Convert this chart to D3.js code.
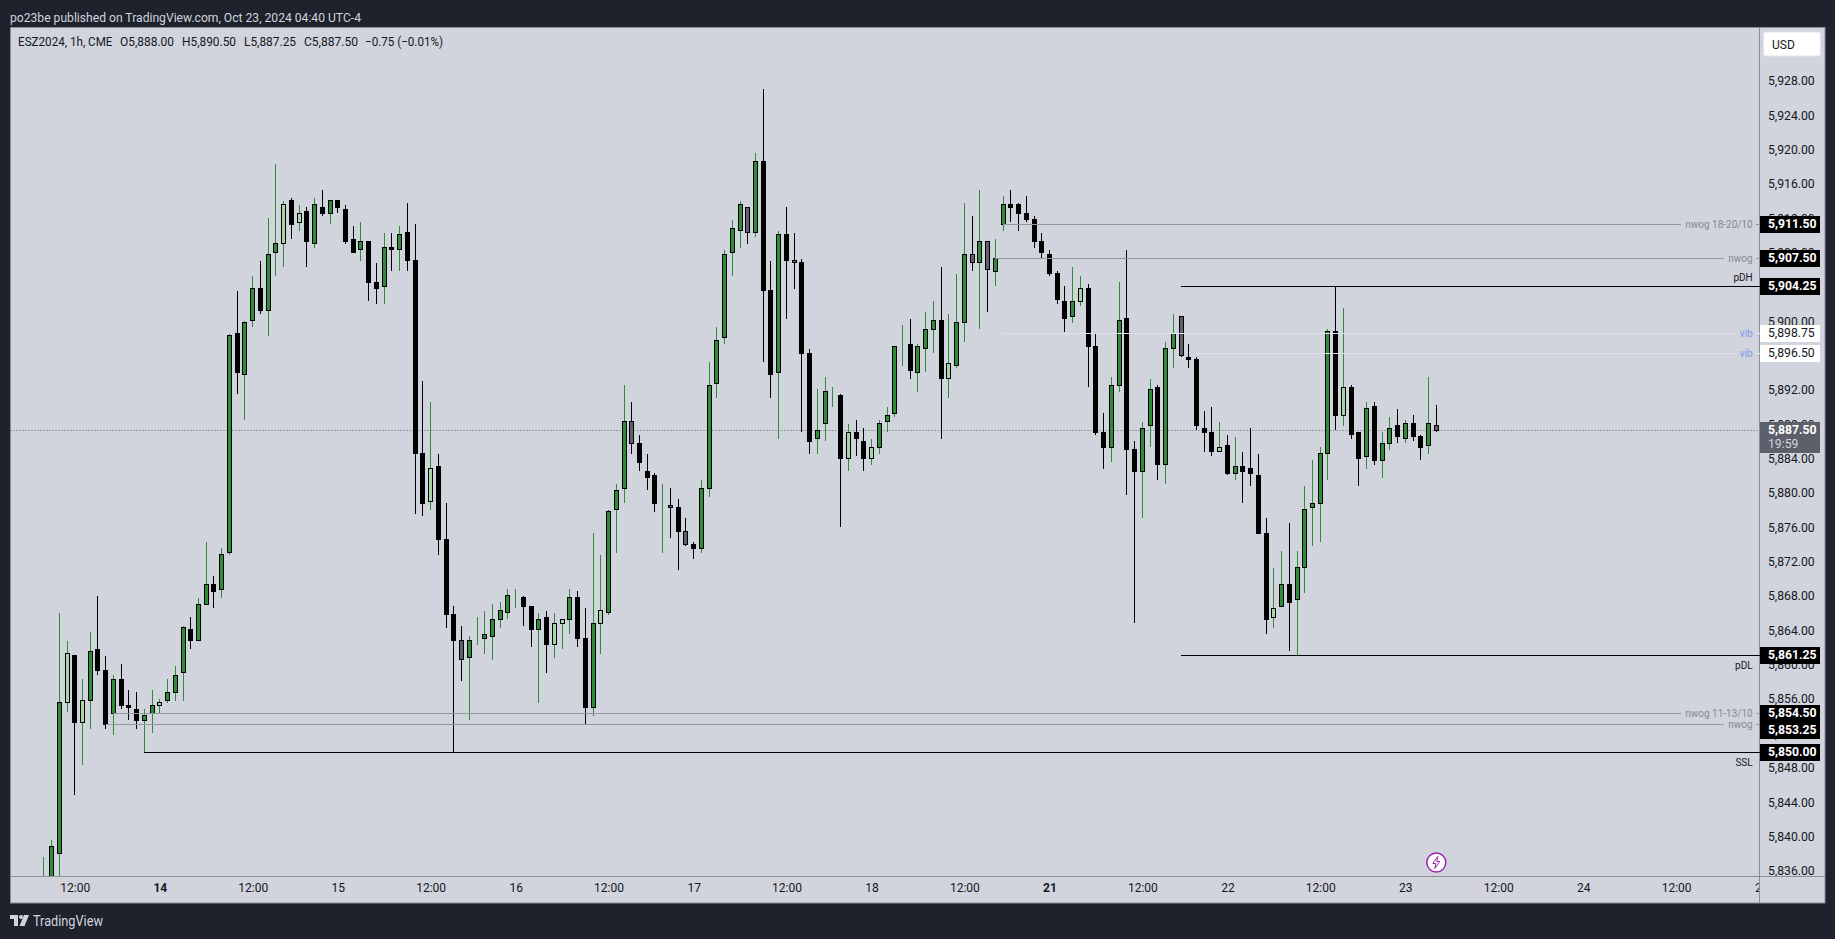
<!DOCTYPE html>
<html>
<head>
<meta charset="utf-8">
<title>ESZ2024 1h</title>
<script src="https://cdn.jsdelivr.net/npm/d3@7/dist/d3.min.js"></script>
<style>
html,body{margin:0;padding:0;background:#1e222d;overflow:hidden}
svg{display:block}
text{font-family:"Roboto","Open Sans",sans-serif}
</style>
</head>
<body>
<svg id="chart" width="1835" height="939"></svg>
<script>
const opens = [
5829,5834,5838.25,5855.75,5861.25,5853.5,5856,5862,5859.5,5854.5,
5858.5,5855.5,5855,5853.75,5854.5,5855.5,5856,5857,5859.25,5864.25,
5863,5867.25,5869.5,5869,5873.25,5898.75,5894,5900.25,5904,5901.5,
5908.25,5909.25,5914.25,5911.75,5913,5909.25,5913.5,5912.75,5914.25,5913.25,
5909.75,5908.5,5909.5,5904.75,5904.25,5908.75,5908.5,5910.5,5907.25,5884.75,
5879.25,5883.25,5874.75,5866,5863,5861,5863,5863.25,5863.5,5865.5,
5866.25,5868,5868,5867,5864.25,5865.75,5862.5,5865,5865.5,5868,
5863.25,5855.25,5865,5866.25,5878.25,5880.75,5888.5,5886,5882.75,5882.25,
5878.75,5878.75,5878.5,5875.75,5874.25,5873.75,5880.75,5893,5898.25,5908.25,
5910.75,5913.5,5910.5,5918.75,5903.75,5894.25,5910.25,5907.25,5907,5896.5,
5886.5,5888.25,5891.75,5891.5,5884.25,5887.25,5886.25,5884.25,5885.5,5888.5,
5889.5,5897.25,5897.5,5894.25,5897,5899.25,5900.25,5893.5,5895,5900,
5908,5907,5909.5,5906,5911.5,5913.75,5913.75,5912.75,5912,5909.5,
5908,5905.75,5902.5,5900.75,5902.5,5904,5897.25,5887.25,5885.5,5892.75,
5900.5,5885.25,5882.75,5888,5892.5,5883.5,5897,5900.75,5896,5895.75,
5887.75,5887.25,5885,5885.75,5882.5,5883.25,5883,5882.25,5875.5,5865.75,
5867,5869.5,5867.75,5871.5,5878.5,5879,5884.75,5899,5889.25,5892.5,
5887.25,5884.5,5890.25,5884,5886,5888,5886.5,5888.25,5886.75,5885.75,
5888];
const highs = [
5837.75,5839.75,5866.25,5863,5861.25,5858.5,5864,5868.25,5861.25,5859,
5860.25,5857.25,5857,5855,5857.25,5856.25,5858.5,5860,5864.75,5865.75,
5868,5874.5,5870.5,5873.75,5898.75,5903.75,5900.25,5905.5,5907.25,5912.25,
5918.5,5914.25,5914.5,5913.75,5913.5,5914.5,5915.5,5914.25,5914.25,5913.75,
5911.25,5911.75,5909.5,5907,5910.5,5910.5,5911.25,5914,5911.5,5893.25,
5890.75,5884.75,5879,5867,5864.75,5863.5,5865.75,5866.5,5867.25,5867.5,
5869,5869,5868.25,5867,5866.25,5866.5,5866.25,5865.5,5869,5868.75,
5866.75,5875.5,5873,5878.25,5881.25,5892.75,5890.75,5887,5884.75,5882.5,
5881.25,5880.75,5879.5,5877.25,5874.5,5881.75,5895.5,5899.5,5908.5,5912,
5914.25,5913.5,5919.75,5927.25,5907.25,5910.75,5913.5,5910.5,5907.5,5897,
5892.25,5893.75,5892.5,5891.75,5888.25,5888.75,5887.75,5886.5,5888.75,5890.25,
5897.25,5899.75,5900.5,5897.5,5901.25,5902.5,5906.5,5901,5905.75,5914,
5912.5,5915.5,5909.5,5909.75,5914.75,5915.5,5914,5914.75,5912.5,5910.5,
5908.5,5906,5904.25,5906.5,5905.5,5904.5,5898.75,5889.5,5893.75,5904.75,
5908.5,5886.25,5888.5,5893.5,5892.75,5897.75,5901,5900.75,5897.5,5896,
5889.75,5890.25,5888.5,5887,5886.75,5885,5887.75,5884.75,5877.25,5871.5,
5873.5,5876.75,5873.5,5881,5884,5885.5,5899.25,5904.25,5901.75,5892.75,
5887.25,5890.75,5890.75,5887.25,5889,5890,5888.75,5889.25,5887,5893.75,
5890.5];
const lows = [
5827,5833,5834,5854.75,5845,5848.5,5852.75,5859,5852.75,5852,
5855,5853.75,5852.75,5850,5852.25,5854.5,5855.75,5856,5856,5862,
5863,5867.25,5866.75,5868,5873,5891.75,5888.75,5899.5,5901,5898.5,
5905.5,5906.5,5909.75,5910.75,5906.5,5908.75,5912.5,5911.5,5912.75,5909.25,
5908.25,5907.25,5902.5,5902.25,5902.25,5906,5906,5906,5877.75,5877.5,
5878.25,5873,5864.5,5850,5858.25,5853.75,5862.5,5861.5,5860.75,5864.5,
5865.5,5866.75,5864.75,5862.25,5855.75,5859.25,5861,5862,5863.75,5862.25,
5853.25,5854.25,5861.5,5866,5873.25,5879,5884.75,5882.75,5880.5,5878,
5873.25,5875,5871.25,5874,5872.5,5873.25,5879.75,5891.25,5897.5,5905.5,
5908.75,5909.25,5910,5895.5,5891.25,5886.5,5900.5,5904,5887.25,5884.75,
5884.75,5886.25,5890.25,5876.25,5882.75,5884.5,5882.75,5883.5,5884.75,5887.25,
5889,5895,5893.5,5892,5894.25,5896.5,5886.5,5891.25,5894.75,5897.75,
5906,5899.25,5901.25,5904.25,5910.75,5911.75,5910.75,5911.75,5908.75,5907.5,
5905.5,5902.25,5899,5900,5902,5892.5,5887,5883,5883.75,5892,
5880,5865,5877.25,5885.5,5881.75,5881.25,5894.75,5896,5894.75,5887.5,
5885,5884.5,5885,5882.25,5881.75,5879,5881,5875.5,5863.75,5864.5,
5867,5861.75,5861.25,5868.5,5874,5874.5,5881.75,5887.5,5888,5886.5,
5881,5883,5883.5,5882,5885.25,5886,5886,5886.25,5884,5884.75,
5887.25];
const closes = [
5834,5839,5855.75,5861.5,5853.5,5856,5861.75,5859.5,5853.25,5858.5,
5855.5,5855.25,5853.75,5854.25,5855.5,5855.75,5857,5859,5864.5,5863,
5867.25,5869.5,5868.75,5873,5898.5,5894.25,5900,5904,5901.5,5908,
5909.25,5913.75,5911.5,5912.75,5909.5,5913.75,5912.75,5914.25,5913.5,5909.5,
5908.25,5909.5,5904.75,5904,5908.75,5908.5,5910.25,5907.25,5884.75,5879,
5883,5874.75,5866,5863,5860.75,5863,5863,5863.75,5865.5,5866.5,
5868.25,5868,5867,5864.25,5865.5,5862.5,5865,5865.5,5868,5863.25,
5855.25,5865,5866.5,5878,5880.5,5888.5,5886,5883.75,5882,5879,
5878.75,5878.5,5875.75,5874.25,5873.75,5880.75,5892.75,5898,5908,5911,
5913.75,5910.5,5918.75,5903.75,5894,5910.25,5907.25,5907,5896.5,5886.25,
5887.5,5892,5891.75,5884.25,5887.25,5886.5,5884.25,5885.5,5888.25,5889.25,
5897.25,5897.25,5894.5,5897.25,5899.25,5900.25,5893.5,5895.25,5900,5908,
5907,5909.5,5906.25,5907.5,5913.75,5913.5,5912.75,5912,5909.5,5908.25,
5905.75,5902.75,5900.5,5902.5,5904,5897.25,5887.25,5885.5,5892.75,5900.25,
5885.25,5882.75,5887.75,5892.25,5883.5,5897,5898.75,5896.25,5895.75,5888,
5887.25,5885,5885.5,5882.5,5883.25,5882.75,5882.5,5875.5,5865.5,5866.75,
5869.5,5867.5,5871.5,5878.25,5879,5884.75,5899,5889.25,5892.5,5887,
5884.25,5890,5884,5886,5887.75,5886.75,5888.25,5886.75,5885.5,5888.25,
5887.5];
// bars highlighted on the original chart (indices into the series)
const paleUpBars = [3,5,15,31,33,50,66,67,72,104,107,117,134,152,159,168];
const greyDownBars = [54,76,81,83,91,97,120,122,147,180];

const priceTicks = [5928,5924,5920,5916,5912,5908,5904,5900,5896,5892,5888,5884,5880,5876,5872,5868,5864,5860,5856,5852,5848,5844,5840,5836];
const timeTickBars = [4,15,27,38,50,61,73,84,96,107,119,130,142,153,165,176,188,199,211,222];
const timeTickLabels = ["12:00","14","12:00","15","12:00","16","12:00","17","12:00","18","12:00","21","12:00","22","12:00","23","12:00","24","12:00","25"];
const boldTimeLabels = ["14","21"];

const levelPrices = [5911.5,5907.5,5904.25,5898.75,5896.5,5861.25,5854.5,5853.25,5850];
const levelStartBars = [124,123,147,124,149,147,9,8,13];
const levelNames = ["nwog 18-20/10","nwog","pDH","vib","vib","pDL","nwog 11-13/10","nwog","SSL"];
const levelKinds = ["gap","gap","liq","vib","vib","liq","gap","gap","liq"];

const legendParts = ["ESZ2024, 1h, CME","O5,888.00","H5,890.50","L5,887.25","C5,887.50","\u22120.75 (\u22120.01%)"];
const headerText = "po23be published on TradingView.com, Oct 23, 2024 04:40 UTC-4";
const lastClose = closes[closes.length-1];
const countdown = "19:59";

const C = {frame:"#1e222d",bg:"#d1d4dc",axis:"#8a8d98",green:"#2e8b38",pale:"#a5d6a7",grey:"#5d606b",black:"#000",
  gapLine:"#9598a1",vibLine:"#e0e3eb",vibText:"#7a9cf0",gapText:"#868993",text:"#131722"};
const pane = {l:10.5,t:27.5,r:1759.5,b:876,outerR:1825,outerB:903};

const x = d3.scaleLinear().domain([0,180]).range([43.8,1436.3]);
const y = d3.scaleLinear().domain([5911.5,5850]).range([224.2,752.3]);
const fmt = d3.format(",.2f");
const svg = d3.select("#chart");
const px = v => Math.floor(v)+0.5;

// frame + pane
svg.append("rect").attr("width",1835).attr("height",939).attr("fill",C.frame);
svg.append("rect").attr("x",pane.l).attr("y",pane.t).attr("width",pane.outerR-pane.l).attr("height",pane.outerB-pane.t)
   .attr("fill",C.bg).attr("stroke",C.axis).attr("stroke-width",1);
const defs = svg.append("defs");
defs.append("clipPath").attr("id","plot").append("rect").attr("x",pane.l).attr("y",pane.t).attr("width",pane.r-pane.l).attr("height",pane.b-pane.t);
defs.append("clipPath").attr("id","timeclip").append("rect").attr("x",pane.l).attr("y",pane.b).attr("width",pane.r-pane.l).attr("height",pane.outerB-pane.b);

// axes
const priceG = svg.append("g").attr("transform",`translate(${pane.r},-1.7)`)
  .call(d3.axisRight(y).tickValues(priceTicks).tickSize(0).tickPadding(8.5).tickFormat(fmt));
priceG.select(".domain").remove();
priceG.selectAll("text").attr("font-size",12.2).attr("fill",C.text).style("font-family",'"Roboto",sans-serif');

const timeG = svg.append("g").attr("clip-path","url(#timeclip)").append("g").attr("transform",`translate(0,${pane.b})`)
  .call(d3.axisBottom(x).tickValues(timeTickBars).tickSize(0).tickPadding(7).tickFormat((d,i)=>timeTickLabels[i]));
timeG.select(".domain").remove();
timeG.selectAll("text").attr("font-size",12).attr("fill",C.text).style("font-family",'"Roboto",sans-serif')
  .attr("font-weight",(d,i)=>boldTimeLabels.includes(timeTickLabels[i])?700:400);

svg.append("line").attr("x1",pane.l).attr("x2",pane.outerR).attr("y1",pane.b+.5).attr("y2",pane.b+.5).attr("stroke",C.axis);
svg.append("line").attr("x1",pane.r).attr("x2",pane.r).attr("y1",pane.t).attr("y2",pane.outerB).attr("stroke",C.axis);

const plot = svg.append("g").attr("clip-path","url(#plot)");

// last price dotted line
plot.append("line").attr("x1",pane.l).attr("x2",pane.r).attr("y1",px(y(lastClose))).attr("y2",px(y(lastClose)))
  .attr("stroke",C.grey).attr("stroke-dasharray","1 2");

// horizontal levels
const levels = levelPrices.map((p,i)=>({p,start:levelStartBars[i],name:levelNames[i],kind:levelKinds[i]}));
const levelColor = k => k==="liq"?C.black:k==="gap"?C.gapLine:C.vibLine;
const textColor = k => k==="liq"?C.text:k==="gap"?C.gapText:C.vibText;
const lvl = svg.append("g").attr("shape-rendering","crispEdges");
levels.forEach(d=>{
  const yy = px(y(d.p));
  const xs = x(d.start);
  if(d.kind==="liq"){
    lvl.append("line").attr("x1",xs).attr("x2",pane.r).attr("y1",yy).attr("y2",yy).attr("stroke",levelColor(d.kind)).attr("stroke-width",1);
    const below = d.name!=="pDH";
    lvl.append("text").attr("x",1752.7).attr("y",below?yy+9.5:yy-9).attr("text-anchor","end").attr("dominant-baseline","central")
      .attr("font-size",10).attr("fill",textColor(d.kind)).text(d.name);
  } else {
    const t = lvl.append("text").attr("x",1752.7).attr("y",yy-.5).attr("text-anchor","end").attr("dominant-baseline","central")
      .attr("font-size",10).attr("fill",textColor(d.kind)).text(d.name);
    const w = t.node().getComputedTextLength();
    lvl.append("line").attr("x1",xs).attr("x2",1752.7-w-4).attr("y1",yy).attr("y2",yy).attr("stroke",levelColor(d.kind)).attr("stroke-width",1);
    lvl.append("line").attr("x1",1756).attr("x2",pane.r).attr("y1",yy).attr("y2",yy).attr("stroke",levelColor(d.kind)).attr("stroke-width",1);
  }
});

// candles
const bars = opens.map((o,i)=>({i,o,h:highs[i],l:lows[i],c:closes[i],up:closes[i]>=o}));
const bodyFill = d => paleUpBars.includes(d.i)?C.pale:greyDownBars.includes(d.i)?C.grey:d.up?C.green:C.black;
const candle = plot.selectAll("g.c").data(bars).join("g").attr("class","c").attr("shape-rendering","crispEdges");
candle.append("line").attr("x1",d=>px(x(d.i))).attr("x2",d=>px(x(d.i))).attr("y1",d=>y(d.h)).attr("y2",d=>y(d.l))
  .attr("stroke",d=>d.up?C.green:C.black).attr("stroke-width",1);
candle.append("rect").attr("x",d=>px(x(d.i))-2).attr("width",4)
  .attr("y",d=>px(y(Math.max(d.o,d.c))))
  .attr("height",d=>px(y(Math.min(d.o,d.c)))-px(y(Math.max(d.o,d.c))))
  .attr("fill",bodyFill).attr("stroke",C.black).attr("stroke-width",1);

// price labels on the axis; a label that would collide is pushed down below its neighbour
const labels = svg.append("g");
let lastBoxCentre = -Infinity;
function priceBox(p,fill,color){
  const yc = Math.max(y(p), lastBoxCentre+17);
  lastBoxCentre = yc;
  labels.append("rect").attr("x",pane.r+.5).attr("y",Math.round(yc-8.5)).attr("width",60).attr("height",17).attr("fill",fill);
  labels.append("text").attr("x",pane.r+8.5).attr("y",yc-.5).attr("dominant-baseline","central").attr("font-size",12.2)
    .attr("font-weight",fill==="#000"?700:400).attr("fill",color).text(fmt(p));
}
levels.forEach(d=>d.kind==="vib"?priceBox(d.p,"#fff",C.text):priceBox(d.p,"#000","#fff"));
labels.append("rect").attr("x",pane.r+.5).attr("y",Math.round(y(lastClose)-8.5)).attr("width",60).attr("height",31).attr("fill",C.grey);
labels.append("text").attr("x",pane.r+8.5).attr("y",y(lastClose)-.5).attr("dominant-baseline","central").attr("font-size",12.2).attr("font-weight",700).attr("fill","#fff").text(fmt(lastClose));
labels.append("text").attr("x",pane.r+8.5).attr("y",y(lastClose)+13.5).attr("dominant-baseline","central").attr("font-size",12.2).attr("fill","#d1d4dc").text(countdown);

// USD button
svg.append("rect").attr("x",1763.5).attr("y",32).attr("width",57).attr("height",24).attr("rx",2).attr("fill","#fff").attr("stroke","#e0e3eb");
svg.append("text").attr("x",1772).attr("y",44.5).attr("dominant-baseline","central").attr("font-size",12).attr("fill",C.text).text("USD");

// header, legend
svg.append("text").attr("x",10).attr("y",17.5).attr("dominant-baseline","central").attr("font-size",12.5)
  .attr("textLength",351).attr("lengthAdjust","spacingAndGlyphs").attr("fill","#d1d4dc").text(headerText);
const legendX = [18,120,182,244,304,365];
const legendW = [94.5,54,54,52,54,78];
svg.selectAll("text.leg").data(legendParts).join("text").attr("class","leg").attr("x",(d,i)=>legendX[i]).attr("y",41.5)
  .attr("dominant-baseline","central").attr("font-size",12.5).attr("textLength",(d,i)=>legendW[i]).attr("lengthAdjust","spacingAndGlyphs")
  .attr("fill",C.text).text(d=>d);

// lightning badge
const bolt = svg.append("g").attr("transform",`translate(${x(180)},862.5)`);
bolt.append("circle").attr("r",9.5).attr("fill","#fff").attr("stroke","#9c27b0").attr("stroke-width",1.5);
bolt.append("path").attr("d","M1.5-6L-3.5 1H-.5L-1.5 6L3.5-1H.5Z").attr("fill","none").attr("stroke","#9c27b0").attr("stroke-width",1);

// TradingView logo
const logo = svg.append("g").attr("transform","translate(10,915)").attr("fill","#d1d4dc");
logo.append("path").attr("d","M0 0H8V11H4V4H0Z");
logo.append("circle").attr("cx",11).attr("cy",2).attr("r",2);
logo.append("path").attr("d","M14 0H19L14.5 11H9.5Z");
svg.append("text").attr("x",33).attr("y",921).attr("dominant-baseline","central").attr("font-size",14)
  .attr("textLength",70).attr("lengthAdjust","spacingAndGlyphs").attr("fill","#d1d4dc").text("TradingView");
</script>
</body>
</html>
